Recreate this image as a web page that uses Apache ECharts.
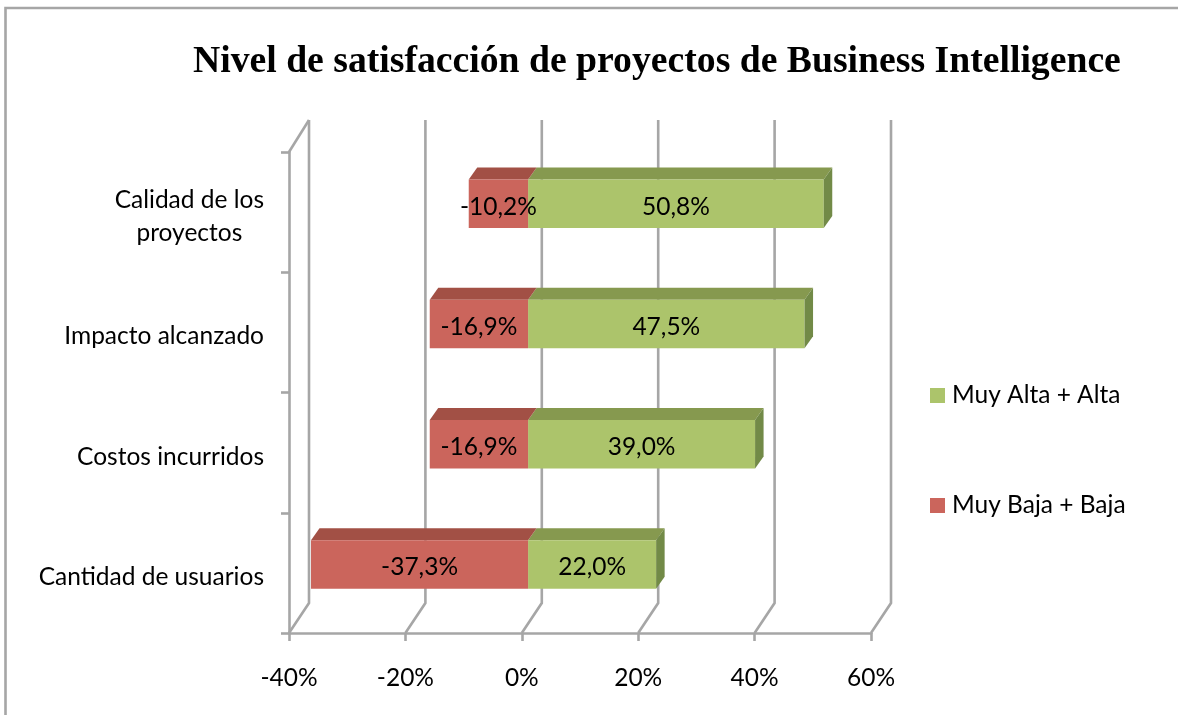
<!DOCTYPE html>
<html>
<head>
<meta charset="utf-8">
<style>
html, body { margin: 0; padding: 0; background: #fff; }
#chart { width: 1178px; height: 715px; }
</style>
<script src="https://cdn.jsdelivr.net/npm/echarts@6/dist/echarts.min.js"></script>
</head>
<body>
<div id="chart"></div>
<script>
var categories = ['Cantidad de usuarios', 'Costos incurridos', 'Impacto alcanzado', 'Calidad de los\nproyectos'];
var altaValues = [22.0, 39.0, 47.5, 50.8];
var bajaValues = [-37.3, -16.9, -16.9, -10.2];
var wallTicks = [-40, -20, 0, 20, 40, 60];

var textFont = 'Lato';
var textSize = 24.5;
var gridColor = '#a6a6a6';

var chart = echarts.init(document.getElementById('chart'));

// paredes del grafico 3D: piso diagonal y linea vertical del fondo
function renderWall(params, api) {
    var cs = params.coordSys;
    var x = api.coord([api.value(0), 0])[0];
    var floorY = cs.y + cs.height;
    var style = { stroke: gridColor, lineWidth: 2.6, fill: null };
    var points = [[x, floorY], [x + 20, floorY - 30], [x + 20, cs.y - 32]];
    var children = [{ type: 'polyline', shape: { points: points }, style: style }];
    if (params.dataIndex === 0) {
        children.push({
            type: 'line',
            shape: { x1: x, y1: cs.y, x2: x + 20, y2: cs.y - 32 },
            style: style
        });
    }
    return { type: 'group', children: children };
}

function barRenderer(front, top, side) {
    return function (params, api) {
        var value = api.value(0);
        var p0 = api.coord([0, api.value(1)]);
        var p1 = api.coord([value, api.value(1)]);
        var dx = 6.3, dy = -8.5, h = 48.5, bx = 8.5, by = 12;
        var x0 = p0[0] + dx, x1 = p1[0] + dx;
        var yTop = p0[1] + dy - h / 2, yBot = yTop + h;
        var left = Math.min(x0, x1), right = Math.max(x0, x1);
        var children = [
            {
                type: 'polygon',
                shape: { points: [[left, yTop], [left + bx, yTop - by], [right + bx, yTop - by], [right, yTop]] },
                style: { fill: top }
            },
            {
                type: 'rect',
                shape: { x: left, y: yTop, width: right - left, height: h },
                style: { fill: front }
            }
        ];
        if (value > 0) {
            children.push({
                type: 'polygon',
                shape: { points: [[right, yTop], [right + bx, yTop - by], [right + bx, yBot - by], [right, yBot]] },
                style: { fill: side }
            });
        }
        children.push({
            type: 'text',
            z2: 10,
            style: {
                x: (left + right) / 2,
                y: yTop + h / 2 + 3,
                text: value.toFixed(1).replace('.', ',') + '%',
                fill: '#000',
                font: textSize + 'px ' + textFont,
                align: 'center',
                verticalAlign: 'middle'
            }
        });
        return { type: 'group', children: children };
    };
}

var option = {
    animation: false,
    backgroundColor: '#fff',
    textStyle: { fontFamily: textFont },
    title: {
        text: 'Nivel de satisfacción de proyectos de Business Intelligence',
        left: 188,
        top: 38,
        textStyle: { fontFamily: 'Liberation Serif', fontWeight: 'bold', fontSize: 37.7, color: '#000' }
    },
    legend: {
        orient: 'vertical',
        left: 925,
        top: 378,
        itemWidth: 15,
        itemHeight: 15,
        itemGap: 85,
        icon: 'rect',
        data: ['Muy Alta + Alta', 'Muy Baja + Baja'],
        textStyle: { fontFamily: textFont, fontSize: textSize, color: '#000', padding: [0, 0, 0, 2] }
    },
    grid: { left: 289, top: 152, width: 582, height: 481 },
    xAxis: {
        type: 'value',
        min: -40,
        max: 60,
        interval: 20,
        splitLine: { show: false },
        axisLine: { show: true, lineStyle: { color: gridColor, width: 2.6 } },
        axisTick: { show: true, length: 8, lineStyle: { color: gridColor, width: 2.6 } },
        axisLabel: {
            margin: 33,
            fontFamily: textFont,
            fontSize: textSize,
            color: '#000',
            formatter: function (v) { return v + '%'; }
        }
    },
    yAxis: {
        type: 'category',
        data: categories,
        axisLine: { show: true, onZero: false, lineStyle: { color: gridColor, width: 2.6 } },
        axisTick: { show: true, length: 8, lineStyle: { color: gridColor, width: 2.6 } },
        axisLabel: {
            margin: 25,
            padding: [8, 0, 0, 0],
            color: '#000',
            formatter: function (v) {
                return v.split('\n').map(function (s) { return '{c|' + s + '}'; }).join('\n');
            },
            rich: { c: { fontFamily: textFont, fontSize: textSize, lineHeight: 33, color: '#000', align: 'center' } }
        }
    },
    series: [
        {
            type: 'custom',
            name: 'pared',
            silent: true,
            z: 1,
            renderItem: renderWall,
            encode: { x: 0 },
            data: wallTicks.map(function (v) { return [v]; })
        },
        {
            type: 'custom',
            name: 'Muy Baja + Baja',
            z: 3,
            itemStyle: { color: '#cb655c' },
            renderItem: barRenderer('#cb655c', '#a25045', '#8a4038'),
            encode: { x: 0, y: 1 },
            data: bajaValues.map(function (v, i) { return [v, i]; })
        },
        {
            type: 'custom',
            name: 'Muy Alta + Alta',
            z: 2,
            itemStyle: { color: '#acc46b' },
            renderItem: barRenderer('#acc46b', '#86994f', '#728a47'),
            encode: { x: 0, y: 1 },
            data: altaValues.map(function (v, i) { return [v, i]; })
        }
    ],
    graphic: [{
        type: 'rect',
        silent: true,
        shape: { x: 5.5, y: 8, width: 1300, height: 800 },
        style: { fill: null, stroke: gridColor, lineWidth: 2.6 }
    }]
};
chart.setOption(option);
</script>
</body>
</html>
